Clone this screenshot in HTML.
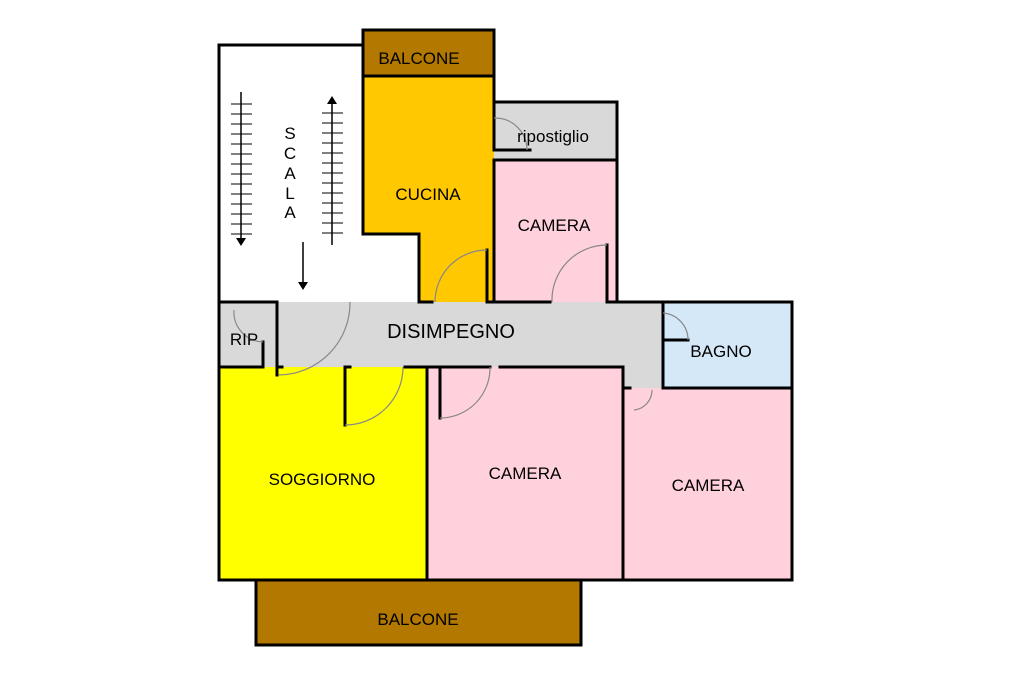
<!DOCTYPE html>
<html><head><meta charset="utf-8"><style>
html,body{margin:0;padding:0;background:#fff;width:1024px;height:682px;overflow:hidden}
text{font-family:"Liberation Sans",Arial,sans-serif;font-size:17px;fill:#000}
</style></head><body>
<svg width="1024" height="682" viewBox="0 0 1024 682" xmlns="http://www.w3.org/2000/svg">
<rect x="363" y="30" width="131" height="46" fill="#b27800"/>
<polygon points="363,76 494,76 494,302 419,302 419,234 363,234" fill="#ffc800"/>
<rect x="494" y="102" width="123" height="58" fill="#d9d9d9"/>
<rect x="494" y="160" width="123" height="142" fill="#ffd1dc"/>
<polygon points="219,302 663,302 663,388 623,388 623,367 219,367" fill="#d9d9d9"/>
<rect x="663" y="303" width="129" height="85" fill="#d4e8f8"/>
<rect x="219" y="367" width="208" height="213" fill="#ffff00"/>
<rect x="427" y="367" width="196" height="213" fill="#ffd1dc"/>
<rect x="623" y="388" width="169" height="192" fill="#ffd1dc"/>
<rect x="256" y="580" width="325" height="65" fill="#b27800"/>
<g stroke="#000" stroke-width="3" fill="none" stroke-linecap="square">
<polyline points="363,45 219,45 219,580"/>
<rect x="363" y="30" width="131" height="46"/>
<line x1="363" y1="76" x2="363" y2="234"/>
<polyline points="363,234 419,234 419,302"/>
<line x1="494" y1="76" x2="494" y2="150"/>
<line x1="494" y1="160" x2="494" y2="302"/>
<polyline points="494,102 617,102 617,302"/>
<line x1="494" y1="160" x2="617" y2="160"/>
<line x1="487" y1="250" x2="487" y2="302"/>
<line x1="607" y1="245" x2="607" y2="302"/>
<line x1="494" y1="150" x2="530" y2="150"/>
<line x1="219" y1="302" x2="277" y2="302"/>
<line x1="419" y1="302" x2="432" y2="302"/>
<line x1="487" y1="302" x2="550" y2="302"/>
<line x1="607" y1="302" x2="792" y2="302"/>
<line x1="277" y1="302" x2="277" y2="375"/>
<line x1="263" y1="342" x2="263" y2="367"/>
<line x1="219" y1="367" x2="263" y2="367"/>
<line x1="277" y1="367" x2="282" y2="367"/>
<line x1="345" y1="367" x2="345" y2="425"/>
<line x1="345" y1="367" x2="350" y2="367"/>
<line x1="405" y1="367" x2="490" y2="367"/>
<line x1="427" y1="367" x2="427" y2="580"/>
<line x1="440" y1="367" x2="440" y2="418"/>
<line x1="500" y1="367" x2="623" y2="367"/>
<line x1="623" y1="367" x2="623" y2="580"/>
<line x1="623" y1="388" x2="630" y2="388"/>
<line x1="663" y1="302" x2="663" y2="340"/>
<line x1="663" y1="340" x2="688" y2="340"/>
<line x1="663" y1="340" x2="663" y2="388"/>
<line x1="663" y1="388" x2="792" y2="388"/>
<line x1="792" y1="302" x2="792" y2="580"/>
<line x1="219" y1="580" x2="792" y2="580"/>
<rect x="256" y="580" width="325" height="65"/>
</g>
<g stroke="#888" stroke-width="1.2" fill="none">
<path d="M487,250 A52,52 0 0 0 435,302"/>
<path d="M607,245 A55,55 0 0 0 552,302"/>
<path d="M494,118 A32,32 0 0 1 527,150"/>
<path d="M234,310 A30,30 0 0 0 263,342"/>
<path d="M350,302 A72,72 0 0 1 279,375"/>
<path d="M403,367 A58,58 0 0 1 345,425"/>
<path d="M490,367 A50,50 0 0 1 440,418"/>
<path d="M663,313 A27,27 0 0 1 688,340"/>
<path d="M652,390 A20,20 0 0 1 634,410"/>
</g>
<g stroke="#000" stroke-width="1.5">
<line x1="241" y1="92" x2="241" y2="240"/>
<line x1="332" y1="102" x2="332" y2="245"/>
<line x1="303" y1="242" x2="303" y2="284"/>
</g>
<g stroke="#000" stroke-width="1">
<path d="M231,104h21M231,114h21M231,124h21M231,134h21M231,144h21M231,154h21M231,164h21M231,174h21M231,184h21M231,194h21M231,204h21M231,214h21M231,224h21M231,234h21"/>
<path d="M322,113h21M322,123h21M322,133h21M322,143h21M322,153h21M322,163h21M322,173h21M322,183h21M322,193h21M322,203h21M322,213h21M322,223h21M322,233h21"/>
</g>
<polygon points="236,238 246,238 241,246" fill="#000"/>
<polygon points="327,104 337,104 332,96" fill="#000"/>
<polygon points="298,282 308,282 303,290" fill="#000"/>
<text x="290" y="139" text-anchor="middle">S</text>
<text x="290" y="159" text-anchor="middle">C</text>
<text x="290" y="179" text-anchor="middle">A</text>
<text x="290" y="199" text-anchor="middle">L</text>
<text x="290" y="218" text-anchor="middle">A</text>
<text x="419" y="64" text-anchor="middle">BALCONE</text>
<text x="428" y="200" text-anchor="middle">CUCINA</text>
<text x="553" y="142" text-anchor="middle">ripostiglio</text>
<text x="554" y="231" text-anchor="middle">CAMERA</text>
<text x="451" y="338" text-anchor="middle" style="font-size:20px">DISIMPEGNO</text>
<text x="244" y="345" text-anchor="middle">RIP</text>
<text x="721" y="357" text-anchor="middle">BAGNO</text>
<text x="322" y="485" text-anchor="middle">SOGGIORNO</text>
<text x="525" y="479" text-anchor="middle">CAMERA</text>
<text x="708" y="491" text-anchor="middle">CAMERA</text>
<text x="418" y="625" text-anchor="middle">BALCONE</text>
</svg>
</body></html>
